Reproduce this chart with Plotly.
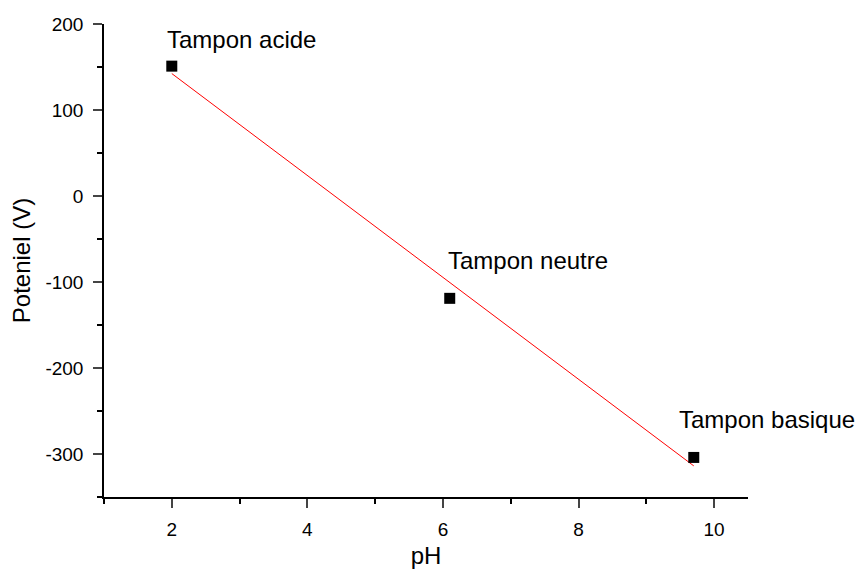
import numpy as np
import plotly.graph_objects as go

ph = [2.0, 6.1, 9.7]
potentiel = [151, -119, -304]
labels = ["Tampon acide", "Tampon neutre", "Tampon basique"]

x_tickvals = [2, 4, 6, 8, 10]
x_ticktext = ["2", "4", "6", "8", "10"]
y_tickvals = [-300, -200, -100, 0, 100, 200]
y_ticktext = ["-300", "-200", "-100", "0", "100", "200"]

slope, intercept = np.polyfit(ph, potentiel, 1)
fit_x = [min(ph), max(ph)]
fit_y = [slope * v + intercept for v in fit_x]

FONT = "Arial, Liberation Sans, Helvetica, sans-serif"

fig = go.Figure()
fig.add_trace(go.Scatter(x=fit_x, y=fit_y, mode="lines",
                         line=dict(color="#ff0000", width=1), showlegend=False))
fig.add_trace(go.Scatter(x=ph, y=potentiel, mode="markers",
                         marker=dict(symbol="square", size=11, color="black"),
                         showlegend=False))

shifts = [(-7, 11), (-4, 22), (-17, 22)]
for xv, yv, t, (dx, dy) in zip(ph, potentiel, labels, shifts):
    fig.add_annotation(x=xv, y=yv, text=t, showarrow=False, xanchor="left",
                       yanchor="bottom", xshift=dx, yshift=dy,
                       font=dict(size=24, color="black", family=FONT))

fig.update_layout(
    width=856, height=561,
    margin=dict(l=96, r=116, t=16, b=72),
    plot_bgcolor="white", paper_bgcolor="white",
    font=dict(family=FONT, color="black", size=19),
    xaxis=dict(range=[1, 10.5], tickvals=x_tickvals, ticktext=x_ticktext,
               ticks="outside", ticklen=9, automargin=False,
               tickwidth=1.5, showline=True, linewidth=1.5, linecolor="black",
               showgrid=False, zeroline=False, ticklabelstandoff=5,
               tickfont=dict(size=19),
               minor=dict(tickvals=[1, 3, 5, 7, 9], ticks="outside", ticklen=5,
                          tickwidth=1.5, tickcolor="black", showgrid=False),
               title=dict(text="pH", font=dict(size=24), standoff=11)),
    yaxis=dict(range=[-350, 200], tickvals=y_tickvals, ticktext=y_ticktext,
               ticks="outside", ticklen=9, automargin=False,
               tickwidth=1.5, showline=True, linewidth=1.5, linecolor="black",
               showgrid=False, zeroline=False, ticklabelstandoff=6,
               tickfont=dict(size=19),
               minor=dict(tickvals=[-350, -250, -150, -50, 50, 150], ticks="outside",
                          ticklen=5, tickwidth=1.5, tickcolor="black", showgrid=False),
               title=dict(text="Poteniel (V)", font=dict(size=24), standoff=12)),
)

fig.write_html("out.html")
